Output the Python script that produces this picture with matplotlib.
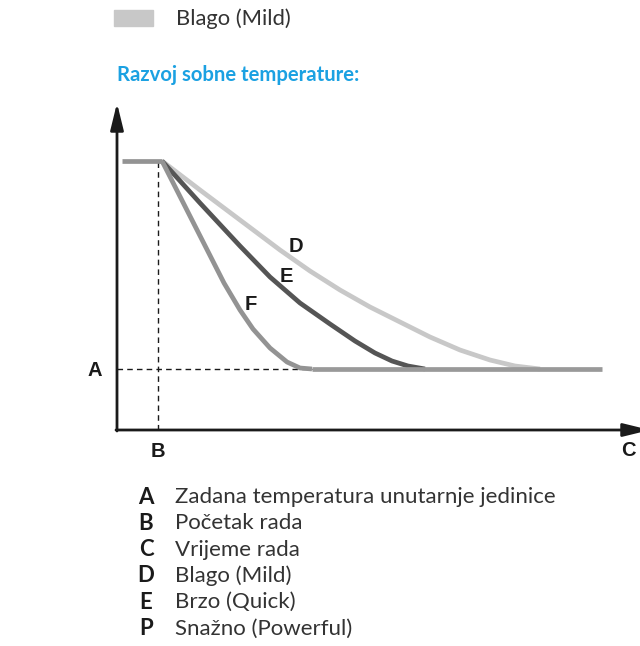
import matplotlib.pyplot as plt

# Room temperature development per fan mode (arbitrary time / temperature units)
start_x = [1.0, 9.0]
start_y = [53.8, 53.8]

mild_x = [9.0, 16.6, 24.6, 32.6, 38.6, 44.6, 50.6, 56.6, 62.6, 68.6, 74.6, 79.6, 84.6]
mild_y = [53.8, 48.0, 42.0, 36.0, 31.8, 28.0, 24.6, 21.6, 18.6, 16.0, 14.0, 12.8, 12.2]

quick_x = [9.0, 16.6, 24.6, 30.6, 36.6, 42.6, 47.6, 51.6, 55.0, 58.2, 61.6]
quick_y = [53.8, 45.4, 36.8, 30.6, 25.4, 21.2, 17.8, 15.4, 13.8, 12.8, 12.2]

powerful_x = [9.0, 15.4, 21.4, 24.6, 27.2, 30.6, 34.0, 36.6, 39.0]
powerful_y = [53.8, 41.2, 29.4, 24.0, 20.2, 16.4, 13.6, 12.4, 12.2]

setpoint = 12.2
run_start = 8.2
plateau_end = 97.0

curve_labels = ["D", "E", "F"]
curve_label_pos = [(35.8, 36.6), (33.8, 30.6), (26.8, 25.2)]

legend_keys = ["A", "B", "C", "D", "E", "P"]
legend_texts = [
    "Zadana temperatura unutarnje jedinice",
    "Početak rada",
    "Vrijeme rada",
    "Blago (Mild)",
    "Brzo (Quick)",
    "Snažno (Powerful)",
]

W, H = 640, 646
fig = plt.figure(figsize=(W / 100, H / 100), dpi=100)


def fx(px):
    return px / W


def fy(py):
    return 1 - py / H


# header: swatch + mode name, then section title
fig.patches.append(plt.Rectangle((fx(114), fy(26)), 39 / W, 16 / H,
                                 transform=fig.transFigure, color="#c8c8c8"))
fig.text(fx(176), fy(19), "Blago (Mild)", fontsize=15.8, family="Lato",
         color="#333333", va="center")
fig.text(fx(117), fy(75), "Razvoj sobne temperature:", fontsize=14.6,
         family="Lato", weight="bold", color="#1ba1e2", va="center")

ax = fig.add_axes([fx(117), fy(430), 523 / W, 330 / H])
ax.set_xlim(0, 104.6)
ax.set_ylim(0, 66)
ax.axis("off")

# axes with arrow heads
arrow = dict(arrowstyle="-|>,head_length=0.9,head_width=0.22", lw=2.0,
             color="#1a1a1a", mutation_scale=18, shrinkA=0, shrinkB=0)
ax.annotate("", xy=(0, 65.4), xytext=(0, -0.2), arrowprops=arrow,
            annotation_clip=False)
ax.annotate("", xy=(106.6, 0), xytext=(-0.2, 0), arrowprops=arrow,
            annotation_clip=False)

# reference lines
ax.plot([run_start, run_start], [0, start_y[0]], ls=(0, (4, 3)), lw=1,
        color="#1a1a1a", clip_on=False)
ax.plot([0, powerful_x[-1]], [setpoint, setpoint], ls=(0, (4, 3)), lw=1,
        color="#1a1a1a", clip_on=False)

style = dict(lw=3.4, solid_capstyle="butt", solid_joinstyle="round",
             clip_on=False)
ax.plot(mild_x, mild_y, color="#c8c8c8", **style)
ax.plot(quick_x, quick_y, color="#555555", **style)
ax.plot(powerful_x, powerful_y, color="#939393", **style)
ax.plot(start_x, start_y, color="#939393", **style)
ax.plot([powerful_x[-1], plateau_end], [setpoint, setpoint],
        color="#999999", **style)

bold = dict(family="Liberation Sans", weight="bold", fontsize=14.5,
            color="#1a1a1a", ha="center", va="center")
for lab, (x, y) in zip(curve_labels, curve_label_pos):
    ax.text(x, y, lab, **bold)
ax.text(-4.4, setpoint - 0.3, "A", **bold)
ax.text(run_start, -4.3, "B", **bold)
ax.text(102.2, -4.1, "C", **bold)

# key below the chart
for i, (k, t) in enumerate(zip(legend_keys, legend_texts)):
    y = 497 + i * 26.3
    fig.text(fx(146), fy(y), k, family="Lato", weight="bold", fontsize=16,
             color="#1a1a1a", ha="center", va="center")
    fig.text(fx(175), fy(y), t, family="Lato", fontsize=16,
             color="#333333", va="center")

fig.savefig("out.png", dpi=100)
